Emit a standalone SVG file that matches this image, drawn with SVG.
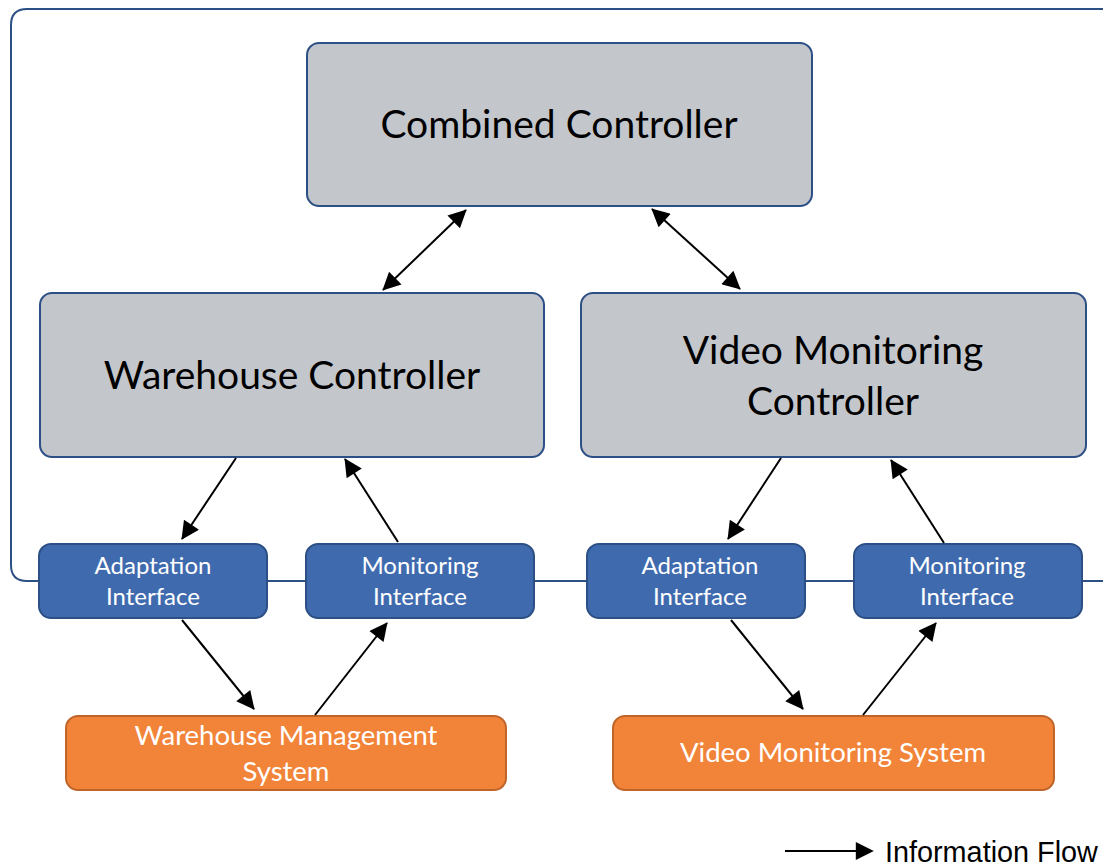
<svg xmlns="http://www.w3.org/2000/svg" width="1103" height="867" viewBox="0 0 1103 867">
  <defs>
    <marker id="arr" viewBox="0 0 10 10" refX="9.5" refY="5" markerWidth="23" markerHeight="18" markerUnits="userSpaceOnUse" orient="auto-start-reverse">
      <path d="M0,0 L10,5 L0,10 z" fill="#000"/>
    </marker>
    <marker id="arrL" viewBox="0 0 10 10" refX="9" refY="5" markerWidth="26" markerHeight="18" markerUnits="userSpaceOnUse" orient="auto">
      <path d="M0,0 L10,5 L0,10 z" fill="#000"/>
    </marker>
    <style>
      .frame { fill: none; stroke: #2c4f85; stroke-width: 2; }
      .ctrl { fill: #c3c6cb; stroke: #2c4f85; stroke-width: 2; }
      .intf { fill: #3f6bae; stroke: #2c4f85; stroke-width: 2; }
      .sys { fill: #f2843a; stroke: #c0652a; stroke-width: 2; }
      .t { font-family: Lato, "Open Sans", sans-serif; text-anchor: middle; }
      .big { font-size: 39px; fill: #000; }
      .small { font-size: 24px; fill: #fff; }
      .mid { font-size: 27.5px; fill: #fff; }
      .flow { stroke: #000; stroke-width: 2; fill: none; }
    </style>
  </defs>

  <!-- outer boundary (open on the right) -->
  <path class="frame" d="M1103,9 H27 Q11,9 11,25 V565 Q11,581 27,581 H1103"/>

  <g id="combined-controller">
    <rect class="ctrl" x="307" y="43" width="505" height="163" rx="12"/>
    <text class="t big" x="559" y="138">Combined Controller</text>
  </g>

  <g id="warehouse-controller">
    <rect class="ctrl" x="40" y="293" width="504" height="164" rx="12"/>
    <text class="t big" x="292" y="389">Warehouse Controller</text>
  </g>

  <g id="video-controller">
    <rect class="ctrl" x="581" y="293" width="505" height="164" rx="12"/>
    <text class="t big" x="833" y="364">Video Monitoring</text>
    <text class="t big" x="833" y="415">Controller</text>
  </g>

  <g id="wh-adaptation">
    <rect class="intf" x="39" y="544" width="228" height="74" rx="12"/>
    <text class="t small" x="153" y="574">Adaptation</text>
    <text class="t small" x="153" y="605">Interface</text>
  </g>

  <g id="wh-monitoring">
    <rect class="intf" x="306" y="544" width="228" height="74" rx="12"/>
    <text class="t small" x="420" y="574">Monitoring</text>
    <text class="t small" x="420" y="605">Interface</text>
  </g>

  <g id="vm-adaptation">
    <rect class="intf" x="587" y="544" width="218" height="74" rx="12"/>
    <text class="t small" x="700" y="574">Adaptation</text>
    <text class="t small" x="700" y="605">Interface</text>
  </g>

  <g id="vm-monitoring">
    <rect class="intf" x="854" y="544" width="228" height="74" rx="12"/>
    <text class="t small" x="967" y="574">Monitoring</text>
    <text class="t small" x="967" y="605">Interface</text>
  </g>

  <g id="warehouse-system">
    <rect class="sys" x="66" y="716" width="440" height="74" rx="12"/>
    <text class="t mid" x="286" y="745">Warehouse Management</text>
    <text class="t mid" x="286" y="781">System</text>
  </g>

  <g id="video-system">
    <rect class="sys" x="613" y="716" width="441" height="74" rx="12"/>
    <text class="t mid" x="833" y="762">Video Monitoring System</text>
  </g>

  <g id="connectors">
    <line class="flow" x1="383" y1="290" x2="466" y2="210" marker-start="url(#arr)" marker-end="url(#arr)"/>
    <line class="flow" x1="652" y1="209" x2="740" y2="289" marker-start="url(#arr)" marker-end="url(#arr)"/>
    <line class="flow" x1="236" y1="458" x2="182" y2="539" marker-end="url(#arr)"/>
    <line class="flow" x1="398" y1="542" x2="345" y2="459" marker-end="url(#arr)"/>
    <line class="flow" x1="781" y1="458" x2="728" y2="539" marker-end="url(#arr)"/>
    <line class="flow" x1="944" y1="543" x2="891" y2="460" marker-end="url(#arr)"/>
    <line class="flow" x1="182" y1="620" x2="254" y2="709" marker-end="url(#arr)"/>
    <line class="flow" x1="315" y1="715" x2="387" y2="623" marker-end="url(#arr)"/>
    <line class="flow" x1="731" y1="620" x2="803" y2="709" marker-end="url(#arr)"/>
    <line class="flow" x1="863" y1="715" x2="936" y2="623" marker-end="url(#arr)"/>
  </g>

  <g id="legend">
    <line class="flow" x1="785" y1="851" x2="872" y2="851" marker-end="url(#arrL)"/>
    <text x="885" y="862" font-family="Liberation Sans, Arial, sans-serif" font-size="28.8" fill="#000">Information Flow</text>
  </g>
</svg>
